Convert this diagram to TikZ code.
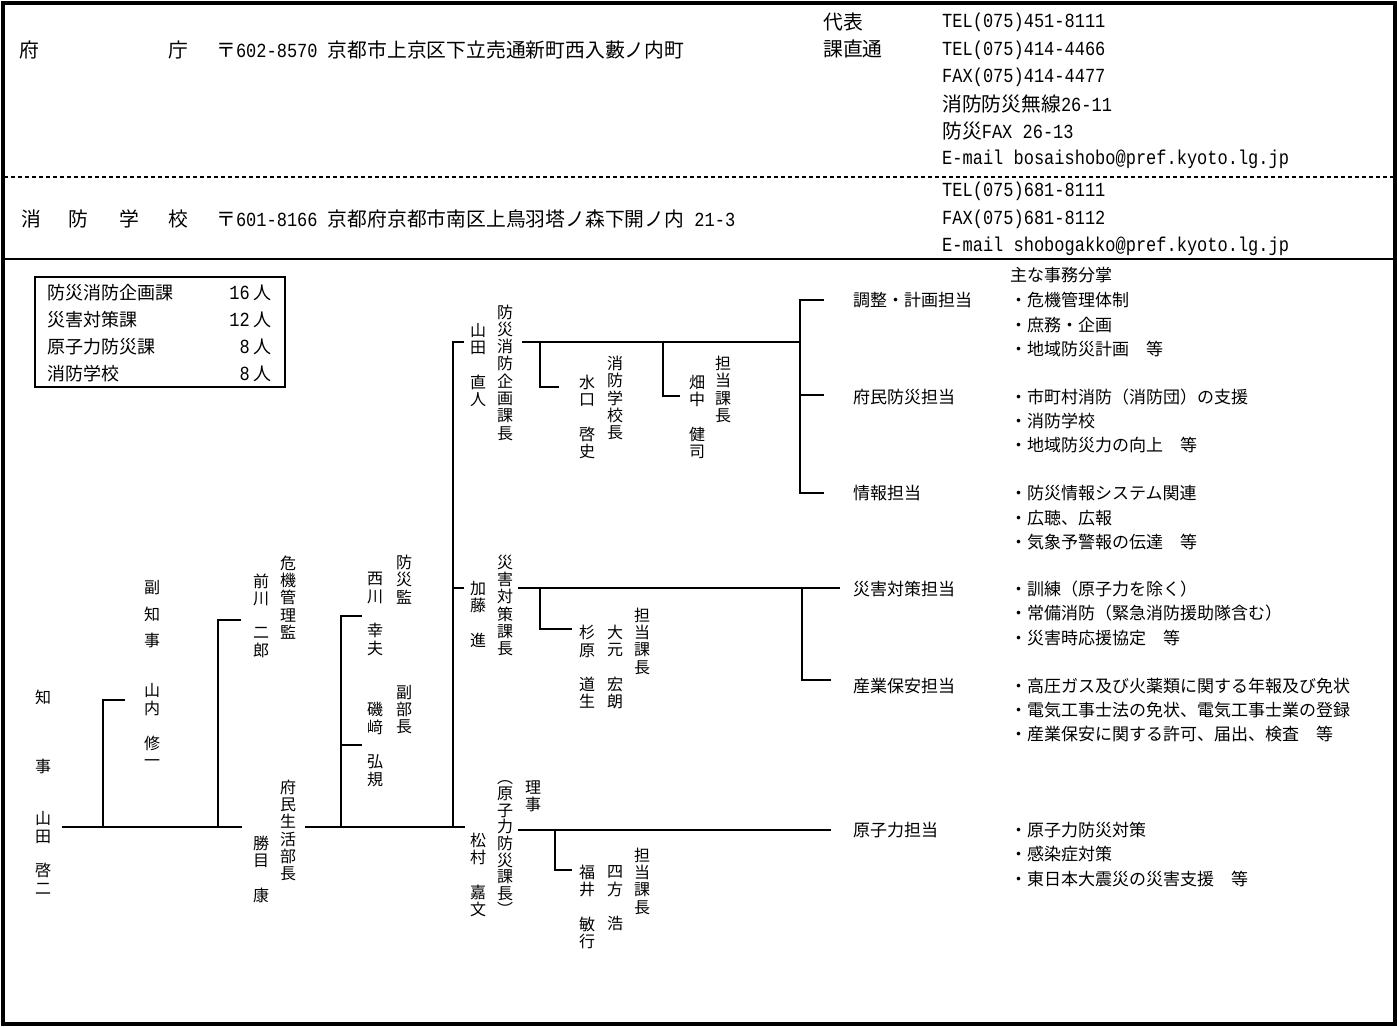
\documentclass[tikz,border=0pt]{standalone}
\usepackage{fontspec}
\setmainfont{Noto Sans CJK JP}
\newfontfamily\latn[FakeStretch=0.85]{Liberation Mono}
\tikzset{
  conn/.style={line width=1.8pt},
  vcol/.style={align=center, inner sep=0pt, font=\fontsize{16}{17.3}\selectfont},
  lbl/.style={anchor=west, inner sep=0pt, font=\fontsize{17}{18}\selectfont},
  boxlbl/.style={anchor=west, inner sep=0pt, font=\fontsize{18}{20}\selectfont},
  boxnum/.style={anchor=east, inner sep=0pt, font=\fontsize{18}{20}\selectfont},
  hdr/.style={anchor=west, inner sep=0pt, font=\fontsize{19.8}{20}\selectfont},
  tel/.style={anchor=west, inner sep=0pt, font=\fontsize{19.8}{20}\selectfont},
}
\newcommand\lt[1]{{\latn\fontsize{20}{20}\selectfont #1}}
\begin{document}
\begin{tikzpicture}[x=1pt,y=-1pt]
\useasboundingbox (0,0) rectangle (1397,1026);
\fill[white] (0,0) rectangle (1397,1026);
% frame
\draw[line width=4pt] (2.5,2.5) rectangle (1394.5,1023.5);
\draw[line width=2.5pt, dash pattern=on 4pt off 3pt] (4,177) -- (1393,177);
\draw[line width=1.5pt] (4,259) -- (1393,259);

% header row 1
\node[hdr] (fu) at (19,50) {府};
\node[hdr] (cho) at (168,50) {庁};
\node[hdr] (addr1) at (216,50) {〒\lt{602-8570 }京都市上京区下立売通新町西入藪ノ内町};
\node[hdr] (daihyo) at (823,22) {代表};
\node[hdr] (kachoku) at (823,49) {課直通};
\node[tel] (t1) at (942,22) {\lt{TEL(075)451-8111}};
\node[tel] (t2) at (942,50) {\lt{TEL(075)414-4466}};
\node[tel] (t3) at (942,77) {\lt{FAX(075)414-4477}};
\node[tel] (t4) at (942,104) {消防防災無線\lt{26-11}};
\node[tel] (t5) at (942,131) {防災\lt{FAX 26-13}};
\node[tel] (t6) at (942,159) {\lt{E-mail bosaishobo@pref.kyoto.lg.jp}};
% header row 2
\node[hdr] (s1) at (21,219) {消};
\node[hdr] (s2) at (68,219) {防};
\node[hdr] (s3) at (119,219) {学};
\node[hdr] (s4) at (168,219) {校};
\node[hdr] (addr2) at (216,219) {〒\lt{601-8166 }京都府京都市南区上鳥羽塔ノ森下開ノ内\lt{ 21-3}};
\node[tel] (u1) at (942,191) {\lt{TEL(075)681-8111}};
\node[tel] (u2) at (942,219) {\lt{FAX(075)681-8112}};
\node[tel] (u3) at (942,246) {\lt{E-mail shobogakko@pref.kyoto.lg.jp}};

% staff box
\draw[line width=1.2pt] (35,277) rectangle (285,387);
\node[boxlbl] (b1) at (47,293) {防災消防企画課};
\node[boxlbl] (b2) at (47,320) {災害対策課};
\node[boxlbl] (b3) at (47,347) {原子力防災課};
\node[boxlbl] (b4) at (47,374) {消防学校};
\node[boxnum] (n1) at (272,293) {\lt{16} 人};
\node[boxnum] (n2) at (272,320) {\lt{12} 人};
\node[boxnum] (n3) at (272,347) {\lt{8} 人};
\node[boxnum] (n4) at (272,374) {\lt{8} 人};

% governor
\node[vcol] (chiji) at (43,731.5) {知\\[51.7pt]事};
\node[vcol] (chijin) at (43,853) {山\\田\\　\\啓\\二};
% vice governor
\node[vcol, font=\fontsize{16}{26.5}\selectfont] (fuku) at (152,614.5) {副\\知\\事};
\node[vcol, font=\fontsize{16}{17.5}\selectfont] (fukun) at (152,725) {山\\内\\　\\修\\一};
% crisis management
\node[vcol] (kiki) at (288,597.5) {危\\機\\管\\理\\監};
\node[vcol] (kikin) at (261,615.5) {前\\川\\　\\二\\郎};
\node[vcol] (fumin) at (288,830.5) {府\\民\\生\\活\\部\\長};
\node[vcol] (fuminn) at (261,869) {勝\\目\\　\\康};
% bosai-kan
\node[vcol] (bosaikan) at (404,579.5) {防\\災\\監};
\node[vcol] (bosaikann) at (375,614) {西\\川\\　\\幸\\夫};
\node[vcol] (fukubu) at (404,709.5) {副\\部\\長};
\node[vcol] (fukubun) at (375,744.5) {磯\\﨑\\　\\弘\\規};
% section chiefs
\node[vcol] (k1) at (505,372.5) {防\\災\\消\\防\\企\\画\\課\\長};
\node[vcol] (k1n) at (478,365) {山\\田\\　\\直\\人};
\node[vcol] (gk) at (615,398) {消\\防\\学\\校\\長};
\node[vcol] (gkn) at (587,417) {水\\口\\　\\啓\\史};
\node[vcol] (tk1) at (723,389.5) {担\\当\\課\\長};
\node[vcol] (tk1n) at (697,417) {畑\\中\\　\\健\\司};
\node[vcol] (k2) at (505,605.5) {災\\害\\対\\策\\課\\長};
\node[vcol] (k2n) at (478,614) {加\\藤\\　\\進};
\node[vcol] (tk2) at (642,641) {担\\当\\課\\長};
\node[vcol] (tk2a) at (615,667) {大\\元\\　\\宏\\朗};
\node[vcol] (tk2b) at (587,667) {杉\\原\\　\\道\\生};
\node[vcol] (riji) at (533,796.5) {理\\事};
\node[vcol, font=\fontsize{16}{16.6}\selectfont] (k3) at (505,848) {︵\\原\\子\\力\\防\\災\\課\\長\\︶};
\node[vcol] (k3n) at (478,875) {松\\村\\　\\嘉\\文};
\node[vcol] (tk3) at (642,881) {担\\当\\課\\長};
\node[vcol] (tk3a) at (615,898.5) {四\\方\\　\\浩};
\node[vcol] (tk3b) at (587,907) {福\\井\\　\\敏\\行};

% units and duties
\node[lbl] (shumu) at (1010,275) {主な事務分掌};
\node[lbl] (g1) at (853,300) {調整・計画担当};
\node[lbl] (g1a) at (1010,300) {・危機管理体制};
\node[lbl] (g1b) at (1010,325) {・庶務・企画};
\node[lbl] (g1c) at (1010,349) {・地域防災計画　等};
\node[lbl] (g2) at (853,397) {府民防災担当};
\node[lbl] (g2a) at (1010,397) {・市町村消防（消防団）の支援};
\node[lbl] (g2b) at (1010,421) {・消防学校};
\node[lbl] (g2c) at (1010,445) {・地域防災力の向上　等};
\node[lbl] (g3) at (853,493) {情報担当};
\node[lbl] (g3a) at (1010,493) {・防災情報システム関連};
\node[lbl] (g3b) at (1010,518) {・広聴、広報};
\node[lbl] (g3c) at (1010,542) {・気象予警報の伝達　等};
\node[lbl] (g4) at (853,589) {災害対策担当};
\node[lbl] (g4a) at (1010,589) {・訓練（原子力を除く）};
\node[lbl] (g4b) at (1010,613) {・常備消防（緊急消防援助隊含む）};
\node[lbl] (g4c) at (1010,638) {・災害時応援協定　等};
\node[lbl] (g5) at (853,686) {産業保安担当};
\node[lbl] (g5a) at (1010,686) {・高圧ガス及び火薬類に関する年報及び免状};
\node[lbl] (g5b) at (1010,710) {・電気工事士法の免状、電気工事士業の登録};
\node[lbl] (g5c) at (1010,734) {・産業保安に関する許可、届出、検査　等};
\node[lbl] (g6) at (853,830) {原子力担当};
\node[lbl] (g6a) at (1010,830) {・原子力防災対策};
\node[lbl] (g6b) at (1010,854) {・感染症対策};
\node[lbl] (g6c) at (1010,879) {・東日本大震災の災害支援　等};

% connector points
\coordinate (a0) at (62,827);
\coordinate (a1) at (242,827);
\coordinate (v1) at (103,827);
\coordinate (v1h) at (125,700);
\coordinate (v2) at (218,827);
\coordinate (v2h) at (241,620);
\coordinate (b0) at (305,827);
\coordinate (b1e) at (465,827);
\coordinate (w1) at (341,827);
\coordinate (w1h) at (362,616);
\coordinate (w2h) at (362,745);
\coordinate (c0) at (453,827);
\coordinate (c1h) at (464,342);
\coordinate (c2h) at (464,588);
% line 1
\coordinate (d0) at (522,342);
\coordinate (d1) at (800,342);
\coordinate (d2) at (540,342);
\coordinate (d2h) at (559,387);
\coordinate (d3) at (663,342);
\coordinate (d3h) at (680,396);
\coordinate (e1) at (824,300);
\coordinate (e2) at (824,395);
\coordinate (e3) at (824,493);
% line 2
\coordinate (f0) at (518,588);
\coordinate (f1) at (840,588);
\coordinate (f2) at (540,588);
\coordinate (f2h) at (572,629);
\coordinate (f3) at (802,588);
\coordinate (f3h) at (831,680);
% line 3
\coordinate (h0) at (518,830);
\coordinate (h1) at (831,830);
\coordinate (h2) at (555,830);
\coordinate (h2h) at (572,870);

\draw[conn] (a0) -- (a1);
\draw[conn] (v1) |- (v1h);
\draw[conn] (v2) |- (v2h);
\draw[conn] (b0) -- (b1e);
\draw[conn] (w1) |- (w1h);
\draw[conn] (w1 |- w2h) -- (w2h);
\draw[conn] (c1h) -| (c0);
\draw[conn] (c0 |- c2h) -- (c2h);
\draw[conn] (d0) -- (d1);
\draw[conn] (d2) |- (d2h);
\draw[conn] (d3) |- (d3h);
\draw[conn] (e1) -| (d1 |- e3) -- (e3);
\draw[conn] (d1 |- e2) -- (e2);
\draw[conn] (f0) -- (f1);
\draw[conn] (f2) |- (f2h);
\draw[conn] (f3) |- (f3h);
\draw[conn] (h0) -- (h1);
\draw[conn] (h2) |- (h2h);
\end{tikzpicture}
\end{document}
